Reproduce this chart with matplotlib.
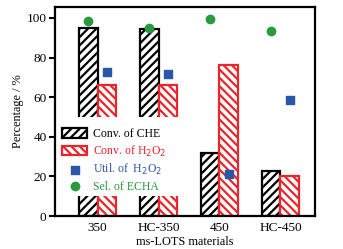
import matplotlib
matplotlib.use("Agg")
import matplotlib.pyplot as plt
import numpy as np

plt.rcParams['font.family'] = ['Liberation Serif', 'DejaVu Serif']
plt.rcParams['hatch.linewidth'] = 1.6

categories = ["350", "HC-350", "450", "HC-450"]
conv_che = [95, 94.5, 32, 23]
conv_h2o2 = [66, 66.3, 76, 20]
util_h2o2 = [72.5, 71.5, 21, 58.5]
sel_echa = [98.5, 95, 99.5, 93.5]

red = "#e8262c"
blue = "#2a57a8"
green = "#2b9a3e"

fig = plt.figure(figsize=(3.43, 2.49), dpi=100)
ax = fig.add_axes([0.160, 0.132, 0.759, 0.840])

x = np.arange(len(categories))
w = 0.31
b1 = ax.bar(x - w/2, conv_che, w, facecolor="white", edgecolor="black", hatch="////",
            linewidth=1.6, label="Conv. of CHE", zorder=2)
b2 = ax.bar(x + w/2, conv_h2o2, w, facecolor="white", edgecolor=red, hatch="\\\\\\\\",
            linewidth=1.6, label="Conv. of H$_2$O$_2$", zorder=2)
s1 = ax.scatter(x + w/2, util_h2o2, marker="s", s=28, color=blue,
                label="Util. of  H$_2$O$_2$", zorder=3)
s2 = ax.scatter(x - w/2, sel_echa, marker="o", s=36, color=green,
                label="Sel. of ECHA", zorder=3)

ax.set_xlim(-0.7, 3.57)
ax.set_ylim(0, 105.5)
ax.set_yticks([0, 20, 40, 60, 80, 100])
ax.set_xticks(x)
ax.set_xticklabels(categories)
ax.tick_params(axis="x", length=0, labelsize=9.5, pad=4)
ax.tick_params(axis="y", direction="out", length=4, width=1.5, labelsize=9.5, pad=2)
for s in ax.spines.values():
    s.set_linewidth(1.6)
ax.set_ylabel("Percentage / %", fontsize=8.8, labelpad=2)
ax.set_xlabel("ms-LOTS materials", fontsize=8.8, labelpad=2)

# white box behind the legend, covering the bars there
ax.axhspan(10, 50, xmin=0.02, xmax=0.475, facecolor="white", edgecolor="none", zorder=4)

leg = ax.legend(handles=[b1, b2, s1, s2], loc="lower left", bbox_to_anchor=(0.02, 0.10),
                frameon=False, fontsize=8.5, handlelength=2.1, handleheight=0.9,
                handletextpad=0.5, labelspacing=0.3, borderpad=0.2, borderaxespad=0)
leg.set_zorder(5)
for t, c in zip(leg.get_texts(), ["black", red, blue, green]):
    t.set_color(c)

fig.savefig("out.png", dpi=100)
